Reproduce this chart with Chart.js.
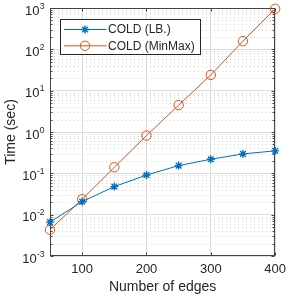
<!DOCTYPE html>
<html>
<head>
<meta charset="utf-8">
<script src="https://cdn.jsdelivr.net/npm/chart.js@4.4.0/dist/chart.umd.min.js"></script>
<style>
  html, body { margin: 0; padding: 0; background: #fff; }
  #wrap { width: 292px; height: 296px; }
</style>
</head>
<body>
<div id="wrap"><canvas id="chart" width="292" height="296"></canvas></div>
<script>
// valeurs
const edges = [50, 100, 150, 200, 250, 300, 350, 400];
const timeLB = [0.0066, 0.0207, 0.0477, 0.091, 0.154, 0.219, 0.295, 0.35];
const timeMinMax = [0.0043, 0.0236, 0.14, 0.82, 4.46, 24, 158, 955];
const seriesLabels = ['COLD (LB.)', 'COLD (MinMax)'];
const seriesColors = ['#0072BD', '#D95319'];
const xTicks = [100, 200, 300, 400];
const yTicks = [1e-3, 1e-2, 1e-1, 1e0, 1e1, 1e2, 1e3];
const yExponents = ['-3', '-2', '-1', '0', '1', '2', '3'];

const FONT = "'Liberation Sans', Arial, sans-serif";
const AXIS_COLOR = '#262626';

const matlabAxes = {
    id: 'matlabAxes',
    beforeDatasetsDraw(chart) {
        const { ctx, chartArea: a, scales: { x, y } } = chart;
        ctx.save();

        // grille mineure (log) en pointillés
        ctx.lineWidth = 1;
        ctx.strokeStyle = '#d2d2d2';
        ctx.setLineDash([1, 3]);
        ctx.beginPath();
        for (let e = -3; e < 3; e++) {
            for (let k = 2; k <= 9; k++) {
                const py = Math.round(y.getPixelForValue(k * Math.pow(10, e))) + 0.5;
                ctx.moveTo(a.left, py);
                ctx.lineTo(a.right, py);
            }
        }
        ctx.stroke();
        ctx.setLineDash([]);

        // cadre
        ctx.strokeStyle = '#444';
        const l = Math.round(a.left) + 0.5, r = Math.round(a.right) - 0.5;
        const t = Math.round(a.top) + 0.5, b = Math.round(a.bottom) - 0.5;
        ctx.strokeRect(l, t, r - l, b - t);

        // graduations vers l'intérieur
        ctx.beginPath();
        xTicks.forEach(v => {
            const px = Math.round(x.getPixelForValue(v)) + 0.5;
            ctx.moveTo(px, b); ctx.lineTo(px, b - 3);
            ctx.moveTo(px, t); ctx.lineTo(px, t + 3);
        });
        for (let e = -3; e <= 3; e++) {
            for (let k = 1; k <= 9; k++) {
                const v = k * Math.pow(10, e);
                if (v > 1000) break;
                const py = Math.round(y.getPixelForValue(v)) + 0.5;
                const len = k === 1 ? 3 : 2;
                ctx.moveTo(l, py); ctx.lineTo(l + len, py);
                ctx.moveTo(r, py); ctx.lineTo(r - len, py);
            }
        }
        ctx.stroke();

        // étiquettes de l'axe y : 10 avec exposant
        ctx.fillStyle = AXIS_COLOR;
        ctx.textAlign = 'right';
        ctx.textBaseline = 'alphabetic';
        yTicks.forEach((v, i) => {
            const py = y.getPixelForValue(v);
            const right = a.left - 5.5;
            ctx.font = '8.5px ' + FONT;
            const supW = ctx.measureText(yExponents[i]).width;
            ctx.fillText(yExponents[i], right, py + 0.5);
            ctx.font = '13px ' + FONT;
            ctx.fillText('10', right - supW - 0.3, py + 6.5);
        });
        ctx.restore();
    },
    afterDatasetsDraw(chart) {
        const { ctx, chartArea: a } = chart;
        ctx.save();
        // légende dans la zone du graphique
        const bx = a.left + 10.5, by = a.top + 11.5, bw = 140, bh = 35;
        ctx.fillStyle = '#fff';
        ctx.fillRect(bx, by, bw, bh);
        ctx.strokeStyle = '#262626';
        ctx.lineWidth = 1;
        ctx.strokeRect(bx, by, bw, bh);

        chart.data.datasets.forEach((ds, i) => {
            const cy = by + 10 + i * 16.3;
            ctx.strokeStyle = ds.borderColor;
            ctx.lineWidth = 1;
            ctx.beginPath();
            ctx.moveTo(bx + 3.5, cy);
            ctx.lineTo(bx + 46, cy);
            ctx.stroke();
            ctx.strokeStyle = ds.pointBorderColor;
            ctx.fillStyle = ds.pointBackgroundColor;
            ctx.lineWidth = ds.pointBorderWidth;
            Chart.helpers.drawPoint(ctx, {
                pointStyle: ds.pointStyle,
                radius: ds.pointRadius,
                rotation: 0,
                borderWidth: ds.pointBorderWidth
            }, bx + 24.5, cy);
            ctx.fillStyle = AXIS_COLOR;
            ctx.font = '12px ' + FONT;
            ctx.textAlign = 'left';
            ctx.textBaseline = 'middle';
            ctx.fillText(ds.label, bx + 47.5, cy + 0.5);
        });
        ctx.restore();
    }
};

new Chart(document.getElementById('chart').getContext('2d'), {
    type: 'line',
    data: {
        datasets: [
            {
                label: seriesLabels[0],
                data: edges.map((e, i) => ({ x: e, y: timeLB[i] })),
                borderColor: seriesColors[0],
                backgroundColor: seriesColors[0],
                borderWidth: 1,
                pointStyle: 'star',
                pointRadius: 4,
                pointBorderWidth: 1.4,
                pointBorderColor: seriesColors[0],
                pointBackgroundColor: seriesColors[0],
                tension: 0,
                fill: false,
                clip: false
            },
            {
                label: seriesLabels[1],
                data: edges.map((e, i) => ({ x: e, y: timeMinMax[i] })),
                borderColor: seriesColors[1],
                backgroundColor: 'rgba(0,0,0,0)',
                borderWidth: 1,
                pointStyle: 'circle',
                pointRadius: 4.7,
                pointBorderWidth: 1,
                pointBorderColor: seriesColors[1],
                pointBackgroundColor: 'rgba(0,0,0,0)',
                tension: 0,
                fill: false,
                clip: false
            }
        ]
    },
    options: {
        responsive: false,
        devicePixelRatio: 1,
        animation: false,
        events: [],
        layout: { padding: { top: 8, right: 11, left: 0, bottom: 0 } },
        plugins: {
            legend: { display: false },
            tooltip: { enabled: false }
        },
        scales: {
            x: {
                type: 'linear',
                min: 50,
                max: 400,
                afterBuildTicks: s => { s.ticks = xTicks.map(v => ({ value: v })); },
                afterFit: s => { s.height = 40; },
                grid: { color: '#dedede', drawTicks: false },
                border: { display: false },
                ticks: {
                    color: AXIS_COLOR,
                    font: { family: FONT, size: 13 },
                    padding: 6,
                    maxRotation: 0,
                    autoSkip: false
                },
                title: {
                    display: true,
                    text: 'Number of edges',
                    color: AXIS_COLOR,
                    font: { family: FONT, size: 14 },
                    padding: 0
                }
            },
            y: {
                type: 'logarithmic',
                min: 1e-3,
                max: 1e3,
                afterBuildTicks: s => { s.ticks = yTicks.map(v => ({ value: v })); },
                afterFit: s => { s.width = 50; },
                grid: { color: '#dedede', drawTicks: false },
                border: { display: false },
                ticks: { display: false },
                title: {
                    display: true,
                    text: 'Time (sec)',
                    color: AXIS_COLOR,
                    font: { family: FONT, size: 14 },
                    padding: { top: 3, bottom: 0 }
                }
            }
        }
    },
    plugins: [matlabAxes]
});
</script>
</body>
</html>
